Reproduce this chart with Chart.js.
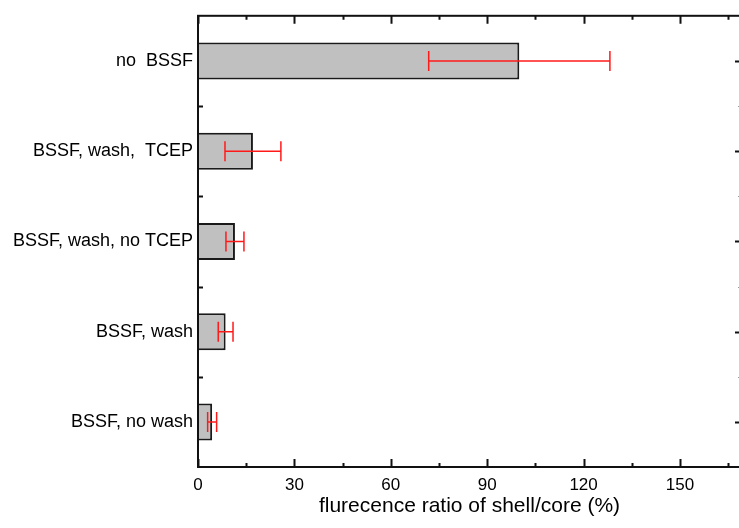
<!DOCTYPE html>
<html>
<head>
<meta charset="utf-8">
<script src="https://cdn.jsdelivr.net/npm/chart.js@4.4.1/dist/chart.umd.min.js"></script>
<style>
  html, body { margin: 0; padding: 0; overflow: hidden; background: #fff; }
  canvas { display: block; }
</style>
</head>
<body>
<canvas id="c" width="742" height="528"></canvas>
<script>
// Conditions, listed top to bottom
const categories = ['no  BSSF', 'BSSF, wash,  TCEP', 'BSSF, wash, no TCEP', 'BSSF, wash', 'BSSF, no wash'];
// Mean fluorescence ratio (%) and its error (±)
const ratioValues = [100, 17.1, 11.5, 8.6, 4.4];
const ratioErrors = [28.2, 8.7, 2.8, 2.3, 1.4];
// Labelled ticks on the value axis
const xTickValues = [0, 30, 60, 90, 120, 150];
const xMax = 169;

const FONT = "'Liberation Sans', Arial, sans-serif";

// Box frame with inward ticks on all four sides
const framePlugin = {
  id: 'frame',
  afterDatasetsDraw(chart) {
    const { ctx, chartArea: { left, right, top, bottom }, scales: { x, y } } = chart;
    ctx.save();
    ctx.strokeStyle = '#111';
    ctx.lineCap = 'butt';

    // value-axis ticks (bottom and top): labelled ones long, midway ones short
    ctx.lineWidth = 2;
    const step = xTickValues[1] - xTickValues[0];
    for (let v = xTickValues[0]; v <= x.max; v += step / 2) {
      const px = Math.round(x.getPixelForValue(v)) + 0.5;
      const len = (v % step === 0) ? 8 : 4;
      ctx.beginPath();
      ctx.moveTo(px, bottom); ctx.lineTo(px, bottom - len);
      ctx.moveTo(px, top); ctx.lineTo(px, top + len);
      ctx.stroke();
    }

    // category-axis ticks
    const n = categories.length;
    for (let i = 0; i < n; i++) {
      const cy = Math.round(y.getPixelForValue(i)) + 0.5;
      ctx.lineWidth = 2;
      ctx.beginPath();
      ctx.moveTo(right, cy); ctx.lineTo(right - 6, cy);
      ctx.stroke();
      if (i < n - 1) {
        const by = Math.round((y.getPixelForValue(i) + y.getPixelForValue(i + 1)) / 2) + 0.5;
        ctx.lineWidth = 2;
        ctx.beginPath();
        ctx.moveTo(left, by); ctx.lineTo(left + 5, by);
        ctx.stroke();
        ctx.lineWidth = 1;
        ctx.strokeStyle = '#999';
        ctx.beginPath();
        ctx.moveTo(right, by); ctx.lineTo(right - 3, by);
        ctx.stroke();
        ctx.strokeStyle = '#111';
      }
    }

    // frame
    ctx.lineWidth = 2;
    ctx.strokeRect(left, top, right - left, bottom - top);
    ctx.restore();
  }
};

// Red error bars centred on each bar
const errorBarPlugin = {
  id: 'errorBars',
  afterDatasetsDraw(chart) {
    const { ctx, scales: { x, y } } = chart;
    ctx.save();
    ctx.strokeStyle = '#ff1a1a';
    ctx.lineWidth = 1.5;
    const cap = 10;
    ratioValues.forEach((v, i) => {
      const cy = y.getPixelForValue(i);
      const x0 = x.getPixelForValue(v - ratioErrors[i]);
      const x1 = x.getPixelForValue(v + ratioErrors[i]);
      ctx.beginPath();
      ctx.moveTo(x0, cy); ctx.lineTo(x1, cy);
      ctx.moveTo(x0, cy - cap); ctx.lineTo(x0, cy + cap);
      ctx.moveTo(x1, cy - cap); ctx.lineTo(x1, cy + cap);
      ctx.stroke();
    });
    ctx.restore();
  }
};

new Chart(document.getElementById('c'), {
  type: 'bar',
  data: {
    labels: categories,
    datasets: [{
      data: ratioValues,
      backgroundColor: '#c0c0c0',
      borderColor: '#1a1a1a',
      borderWidth: 2,
      barPercentage: 0.41,
      categoryPercentage: 1.0
    }]
  },
  options: {
    indexAxis: 'y',
    responsive: false,
    animation: false,
    layout: { padding: { top: 13, right: 1, bottom: 0, left: 0 } },
    plugins: {
      legend: { display: false },
      tooltip: { enabled: false }
    },
    scales: {
      x: {
        min: 0,
        max: xMax,
        grid: { display: false, drawTicks: false },
        border: { display: false },
        afterBuildTicks(scale) {
          scale.ticks = xTickValues.map(v => ({ value: v }));
        },
        afterFit(scale) { scale.height = 61; },
        ticks: {
          padding: 8,
          color: '#000',
          maxRotation: 0,
          font: { family: FONT, size: 17 }
        },
        title: {
          display: true,
          text: 'flurecence ratio of shell/core (%)',
          color: '#000',
          font: { family: FONT, size: 21 },
          padding: { top: 0, bottom: 9 }
        }
      },
      y: {
        grid: { display: false, drawTicks: false },
        border: { display: false },
        afterFit(scale) { scale.width = 198; },
        ticks: {
          padding: 5,
          color: '#000',
          font: { family: FONT, size: 18 }
        }
      }
    }
  },
  plugins: [framePlugin, errorBarPlugin]
});
</script>
</body>
</html>
